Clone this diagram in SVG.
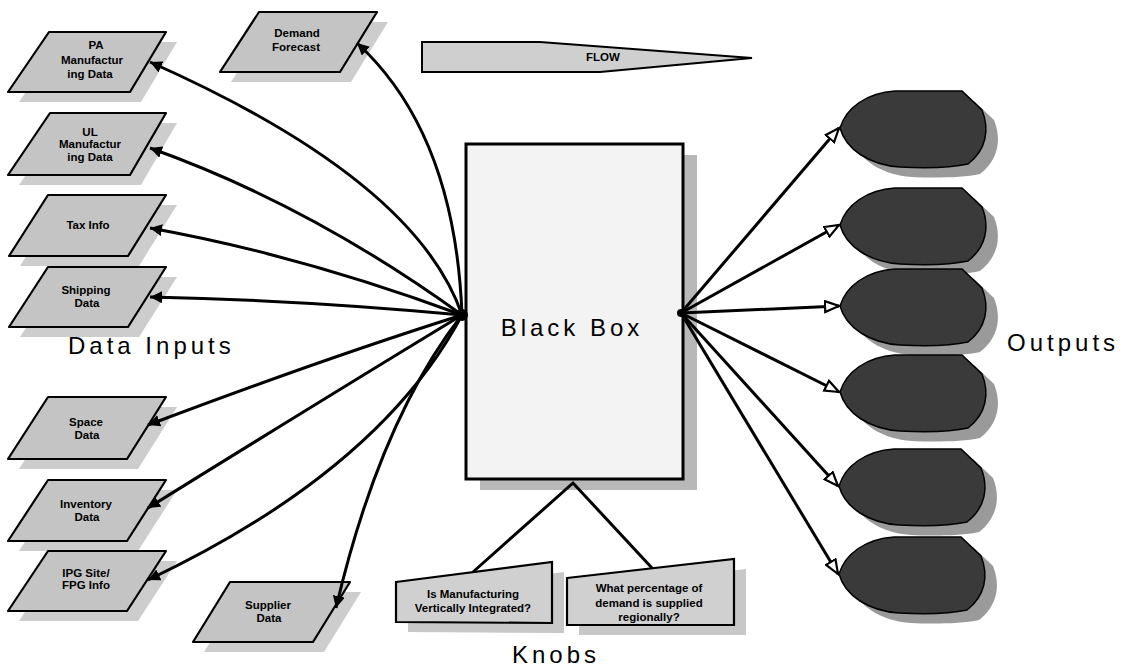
<svg xmlns="http://www.w3.org/2000/svg" width="1123" height="668" viewBox="0 0 1123 668">
<style>
.pg{fill:#c4c4c4;stroke:#000;stroke-width:2.2;stroke-linejoin:round}
.sh{fill:#cdcdcd}
.osh{fill:#9a9a9a}
.out{fill:#3a3a3a;stroke:#000;stroke-width:1.5}
.t{font-family:"Liberation Sans",Arial,sans-serif;font-weight:bold;font-size:11.5px;text-anchor:middle;fill:#000}
.big{font-family:"Liberation Sans",Arial,sans-serif;font-size:24px;letter-spacing:4px;fill:#000}
.c{fill:none;stroke:#000;stroke-width:3}
</style>
<defs>
<marker id="fa" markerUnits="userSpaceOnUse" markerWidth="14" markerHeight="12" refX="12" refY="6" orient="auto">
<path d="M0,0 L12,6 L0,12 Z" fill="#000"/>
</marker>
<marker id="oa" markerUnits="userSpaceOnUse" markerWidth="18" markerHeight="14" refX="15" refY="7" orient="auto">
<path d="M1,1.5 L15,7 L1,12.5 Z" fill="#fff" stroke="#000" stroke-width="2.2"/>
</marker>
<path id="egg" d="M0,0 C6,-20 26,-35 55,-37 L122,-37 L142,-18 C150,2 146,22 128,36 C110,40 80,40 60,39 C30,37 6,22 0,0 Z"/>
</defs>
<rect width="1123" height="668" fill="#fff"/>

<g id="flow">
<path d="M422,42 L540,42 L752,58 L600,72 L422,72 Z" fill="#cfcfcf" stroke="#000" stroke-width="2"/>
<text class="t" x="603" y="61" font-size="10">FLOW</text>
</g>

<g id="black-box">
<rect x="480" y="155" width="217" height="335" fill="#b8b8b8"/>
<rect x="466" y="144" width="217" height="335" fill="#f3f3f3" stroke="#000" stroke-width="3"/>
<text class="big" x="572" y="336" text-anchor="middle">Black Box</text>
</g>

<g id="in-pa">
<path class="sh" d="M60,42 L177,42 L141,102 L19,102 Z"/>
<path class="pg" d="M49,32 L166,32 L130,92 L8,92 Z"/>
<text class="t" x="96" y="49">PA</text>
<text class="t" x="92" y="64">Manufactur</text>
<text class="t" x="90" y="78">ing Data</text>
</g>
<g id="in-ul">
<path class="sh" d="M61,123 L177,123 L141,185 L19,185 Z"/>
<path class="pg" d="M50,113 L166,113 L130,175 L8,175 Z"/>
<text class="t" x="90" y="136">UL</text>
<text class="t" x="90" y="148">Manufactur</text>
<text class="t" x="90" y="161">ing Data</text>
</g>
<g id="in-tax">
<path class="sh" d="M59,205 L177,205 L139,266 L20,266 Z"/>
<path class="pg" d="M48,195 L166,195 L128,256 L9,256 Z"/>
<text class="t" x="88" y="229">Tax Info</text>
</g>
<g id="in-ship">
<path class="sh" d="M59,277 L177,277 L139,337 L20,337 Z"/>
<path class="pg" d="M48,267 L166,267 L128,327 L9,327 Z"/>
<text class="t" x="86" y="294">Shipping</text>
<text class="t" x="87" y="307">Data</text>
</g>
<g id="in-space">
<path class="sh" d="M59,407 L177,407 L138,469 L19,469 Z"/>
<path class="pg" d="M48,397 L166,397 L127,459 L8,459 Z"/>
<text class="t" x="86" y="426">Space</text>
<text class="t" x="87" y="439">Data</text>
</g>
<g id="in-inventory">
<path class="sh" d="M59,490 L177,490 L138,551 L19,551 Z"/>
<path class="pg" d="M48,480 L166,480 L127,541 L8,541 Z"/>
<text class="t" x="86" y="508">Inventory</text>
<text class="t" x="87" y="521">Data</text>
</g>
<g id="in-ipg">
<path class="sh" d="M59,561 L177,561 L138,621 L19,621 Z"/>
<path class="pg" d="M48,551 L166,551 L127,611 L8,611 Z"/>
<text class="t" x="86" y="577">IPG Site/</text>
<text class="t" x="86" y="589">FPG Info</text>
</g>
<g id="in-supplier">
<path class="sh" d="M241,592 L361,592 L324,652 L204,652 Z"/>
<path class="pg" d="M230,582 L350,582 L313,642 L193,642 Z"/>
<text class="t" x="268" y="609">Supplier</text>
<text class="t" x="269" y="622">Data</text>
</g>
<g id="in-demand">
<path class="sh" d="M270,22 L388,22 L351,82 L231,82 Z"/>
<path class="pg" d="M259,12 L377,12 L340,72 L220,72 Z"/>
<text class="t" x="297" y="37">Demand</text>
<text class="t" x="296" y="51">Forecast</text>
</g>

<g id="knob-1">
<path fill="#c8c8c8" d="M408,592 L564,572 L564,633 L408,632 Z"/>
<path d="M396,582 L552,562 L552,623 L396,622 Z" fill="#d0d0d0" stroke="#000" stroke-width="2.2"/>
<text class="t" x="473" y="598">Is Manufacturing</text>
<text class="t" x="473" y="612">Vertically Integrated?</text>
</g>
<g id="knob-2">
<path fill="#c8c8c8" d="M579,588 L746,569 L746,635 L579,635 Z"/>
<path d="M567,578 L734,559 L734,625 L567,625 Z" fill="#d0d0d0" stroke="#000" stroke-width="2.2"/>
<text class="t" x="649" y="592">What percentage of</text>
<text class="t" x="649" y="607">demand is supplied</text>
<text class="t" x="649" y="621">regionally?</text>
</g>

<g id="outputs">
<g id="out-1"><use href="#egg" class="osh" x="852" y="138"/><use href="#egg" class="out" x="840" y="128"/></g>
<g id="out-2"><use href="#egg" class="osh" x="852" y="235"/><use href="#egg" class="out" x="840" y="225"/></g>
<g id="out-3"><use href="#egg" class="osh" x="852" y="316"/><use href="#egg" class="out" x="840" y="306"/></g>
<g id="out-4"><use href="#egg" class="osh" x="852" y="402"/><use href="#egg" class="out" x="840" y="392"/></g>
<g id="out-5"><use href="#egg" class="osh" x="851" y="496"/><use href="#egg" class="out" x="839" y="486"/></g>
<g id="out-6"><use href="#egg" class="osh" x="851" y="584"/><use href="#egg" class="out" x="839" y="574"/></g>
</g>

<g id="connectors">
<path class="c" marker-end="url(#fa)" d="M462,315 Q416,180 150,62"/>
<path class="c" marker-end="url(#fa)" d="M462,315 Q455,133 357,43"/>
<path class="c" marker-end="url(#fa)" d="M462,315 Q310,205 150,148"/>
<path class="c" marker-end="url(#fa)" d="M462,315 Q300,255 150,228"/>
<path class="c" marker-end="url(#fa)" d="M462,315 Q300,300 150,297"/>
<path class="c" marker-end="url(#fa)" d="M462,315 Q320,360 148,425"/>
<path class="c" marker-end="url(#fa)" d="M462,315 Q330,395 148,508"/>
<path class="c" marker-end="url(#fa)" d="M462,315 Q380,470 148,580"/>
<path class="c" marker-end="url(#fa)" d="M462,315 Q380,420 336,608"/>
<circle cx="462" cy="315" r="6" fill="#000"/>
<path class="c" marker-end="url(#oa)" d="M681,313 L839,128"/>
<path class="c" marker-end="url(#oa)" d="M681,313 L839,225"/>
<path class="c" marker-end="url(#oa)" d="M681,313 L839,306"/>
<path class="c" marker-end="url(#oa)" d="M681,313 L839,392"/>
<path class="c" marker-end="url(#oa)" d="M681,313 L838,486"/>
<path class="c" marker-end="url(#oa)" d="M681,313 L838,574"/>
<circle cx="681" cy="313" r="4" fill="#000"/>
<path class="c" d="M473,572 L573,483 L652,568"/>
</g>

<g id="labels">
<text class="big" x="68" y="354">Data Inputs</text>
<text class="big" x="1007" y="351">Outputs</text>
<text class="big" x="512" y="663">Knobs</text>
</g>
</svg>
